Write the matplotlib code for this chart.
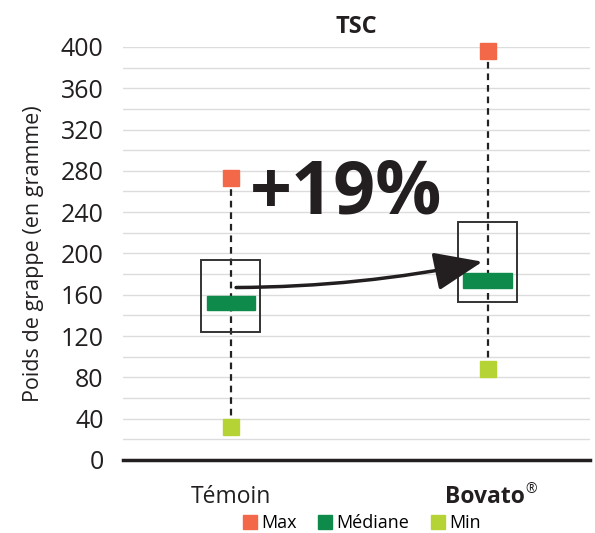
import matplotlib.pyplot as plt
from matplotlib.patches import Rectangle, FancyArrowPatch
from matplotlib.lines import Line2D

plt.rcParams['font.family'] = ['Open Sans', 'DejaVu Sans']

groups = ["Témoin", "Bovato"]
max_vals = [273, 396]
q3_vals = [194, 230]
med_vals = [152, 174]
q1_vals = [124, 153]
min_vals = [32, 88]
gain_label = "+19%"

c_max = "#F26849"
c_med = "#0E8A4A"
c_min = "#B5D334"

fig = plt.figure(figsize=(5.95, 5.33), dpi=100)
ax = fig.add_axes([0.207, 0.137, 0.785, 0.775])
ax.set_xlim(-0.42, 1.4)
ax.set_ylim(0, 400)

for y in range(20, 401, 20):
    ax.axhline(y, color="#dcdcdc", lw=1, zorder=0)

xs = list(range(len(groups)))
box_w = 0.23
med_w = 0.19
for x, mx, q3, md, q1, mn in zip(xs, max_vals, q3_vals, med_vals, q1_vals, min_vals):
    ax.plot([x, x], [mn, mx], color="#222222", lw=1.6, ls=(0, (3, 2.2)), zorder=2)
    ax.add_patch(Rectangle((x - box_w / 2, q1), box_w, q3 - q1, fill=False,
                           ec="#333333", lw=1.4, zorder=3))
    ax.add_patch(Rectangle((x - med_w / 2, md - 7), med_w, 14, color=c_med, zorder=4))
    ax.plot(x, mx, "s", color=c_max, ms=11, zorder=5, clip_on=False)
    ax.plot(x, mn, "s", color=c_min, ms=11, zorder=5, clip_on=False)

arr = FancyArrowPatch((0.02, 167), (0.98, 192), connectionstyle="arc3,rad=0.05",
                      arrowstyle="-|>,head_length=1.5,head_width=0.6",
                      mutation_scale=20, color="#231f20", lw=2.5, zorder=6,
                      shrinkA=0, shrinkB=0)
ax.add_patch(arr)
ax.text(0.45, 257, gain_label, fontsize=53, fontweight="bold", color="#231f20",
        ha="center", va="center")

for s in ["left", "right", "top"]:
    ax.spines[s].set_visible(False)
ax.spines["bottom"].set_linewidth(2.5)
ax.spines["bottom"].set_color("#231f20")
ax.set_yticks(range(0, 401, 40))
ax.tick_params(axis="y", length=0, labelsize=18, pad=14, colors="#231f20")
ax.set_xticks([])
ax.set_ylabel("Poids de grappe (en gramme)", fontsize=15.5, color="#231f20", labelpad=12)
ax.set_title("TSC", fontsize=17, fontweight="bold", pad=10, color="#231f20")

ax.text(0, -36, groups[0], ha="center", va="center", fontsize=16.5, color="#231f20")
ax.text(0.99, -36, groups[1], ha="center", va="center", fontsize=16.5,
        fontweight="bold", color="#231f20")
ax.text(1.17, -29, "®", ha="center", va="center", fontsize=10, color="#231f20")

handles = [Line2D([], [], marker="s", ls="", color=c, ms=10) for c in (c_max, c_med, c_min)]
fig.legend(handles, ["Max", "Médiane", "Min"], loc="center", ncol=3,
           bbox_to_anchor=(0.605, 0.018), frameon=False, fontsize=13,
           handletextpad=0.0, columnspacing=1.0, handlelength=1.2)

fig.savefig("out.png", dpi=100)
